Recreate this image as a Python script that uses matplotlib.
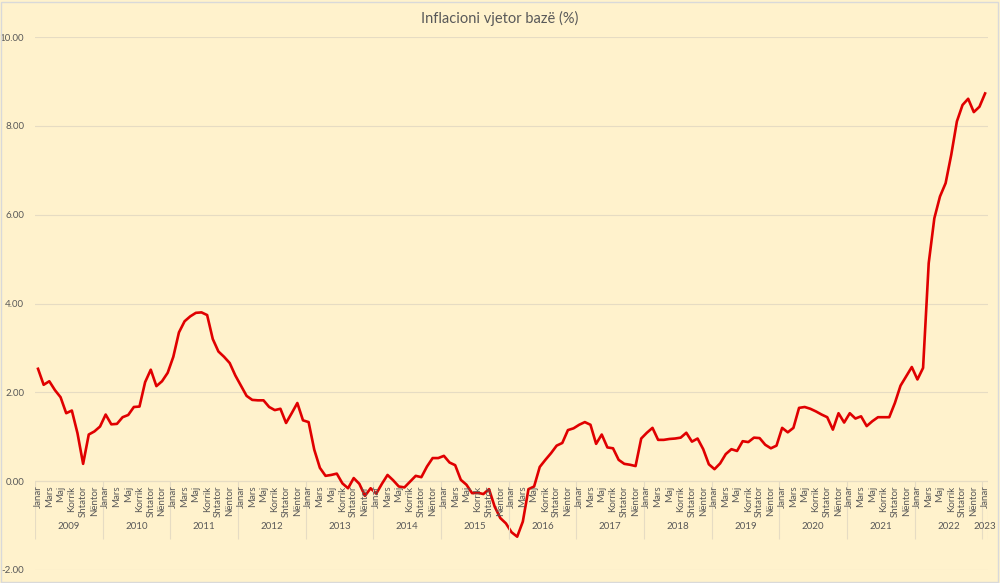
import matplotlib
matplotlib.use("Agg")
import matplotlib.pyplot as plt
from matplotlib.patches import Rectangle

# annual inflation (%), monthly, Jan 2009 .. Jan 2023
v2009 = [2.53, 2.17, 2.25, 2.05, 1.89, 1.53, 1.59, 1.08, 0.39, 1.05, 1.12, 1.23]
v2010 = [1.50, 1.28, 1.29, 1.44, 1.49, 1.67, 1.68, 2.23, 2.51, 2.14, 2.25, 2.44]
v2011 = [2.80, 3.35, 3.60, 3.71, 3.79, 3.80, 3.74, 3.20, 2.92, 2.80, 2.66, 2.38]
v2012 = [2.15, 1.92, 1.83, 1.82, 1.82, 1.67, 1.60, 1.63, 1.31, 1.53, 1.76, 1.37]
v2013 = [1.33, 0.71, 0.30, 0.12, 0.14, 0.17, -0.05, -0.16, 0.07, -0.06, -0.33, -0.16]
v2014 = [-0.28, -0.06, 0.14, 0.02, -0.12, -0.14, -0.01, 0.12, 0.09, 0.33, 0.52, 0.52]
v2015 = [0.57, 0.42, 0.36, 0.03, -0.08, -0.27, -0.26, -0.29, -0.18, -0.57, -0.83, -0.95]
v2016 = [-1.15, -1.25, -0.91, -0.18, -0.12, 0.32, 0.48, 0.63, 0.80, 0.86, 1.15, 1.19]
v2017 = [1.27, 1.33, 1.27, 0.84, 1.05, 0.76, 0.74, 0.48, 0.39, 0.37, 0.34, 0.96]
v2018 = [1.09, 1.20, 0.93, 0.93, 0.95, 0.96, 0.98, 1.09, 0.89, 0.96, 0.72, 0.38]
v2019 = [0.27, 0.40, 0.61, 0.72, 0.68, 0.90, 0.88, 0.98, 0.97, 0.82, 0.74, 0.80]
v2020 = [1.20, 1.10, 1.20, 1.65, 1.67, 1.63, 1.57, 1.50, 1.44, 1.16, 1.53, 1.32]
v2021 = [1.53, 1.41, 1.46, 1.24, 1.35, 1.44, 1.44, 1.44, 1.76, 2.15, 2.36, 2.57]
v2022 = [2.29, 2.55, 4.91, 5.92, 6.41, 6.71, 7.35, 8.10, 8.47, 8.61, 8.31, 8.43]
v2023 = [8.73]

years = [2009, 2010, 2011, 2012, 2013, 2014, 2015, 2016, 2017, 2018, 2019, 2020, 2021, 2022, 2023]
month_labels = ["Janar", "", "Mars", "", "Maj", "", "Korrik", "", "Shtator", "", "Nëntor", ""]
title = "Inflacioni vjetor bazë (%)"

values = (v2009 + v2010 + v2011 + v2012 + v2013 + v2014 + v2015 + v2016
          + v2017 + v2018 + v2019 + v2020 + v2021 + v2022 + v2023)
n = len(values)

bg = "#FFF2CC"
grid_col = "#E6DCC3"
txt_col = "#595959"
plt.rcParams["font.family"] = ["Lato", "DejaVu Sans"]

fig = plt.figure(figsize=(10, 5.83), dpi=100, facecolor=bg)
ax = fig.add_axes([0.0352, 0.0223, 0.9527, 0.9142], facecolor=bg)

ax.plot(range(n), values, color="#E00000", lw=1.9, solid_joinstyle="round")

ax.set_xlim(-0.5, n - 0.5)
ax.set_ylim(-2, 10)
ax.set_yticks(range(-2, 11, 2))
ax.set_yticklabels([f"{v:.2f}" for v in range(-2, 11, 2)])
ax.tick_params(axis="y", length=0, pad=8, labelsize=7, labelcolor=txt_col)
ax.set_xticks([])
ax.grid(axis="y", color=grid_col, lw=0.8)
ax.set_axisbelow(True)
for s in ax.spines.values():
    s.set_visible(False)
ax.axhline(0, color=grid_col, lw=0.8, zorder=0.5)

# month labels (every other month) under the zero line
for i in range(n):
    lab = month_labels[i % 12]
    if lab:
        ax.text(i, -0.1, lab, rotation=90, ha="center", va="top",
                fontsize=7, color=txt_col)

# year labels and separators
seps = []
for k, y in enumerate(years):
    start = k * 12
    end = min(start + 12, n)
    ax.text((start + end - 1) / 2, -1.03, str(y), ha="center", va="center",
            fontsize=7, color=txt_col)
    seps.append(start - 0.5)
seps.append(n - 0.5)
ax.vlines(seps, -1.3, 0, color=grid_col, lw=0.8)

fig.text(0.5, 0.968, title, ha="center", va="center", fontsize=10.5, color=txt_col)
fig.patches.append(Rectangle((0.001, 0.002), 0.997, 0.995, transform=fig.transFigure,
                             fill=False, edgecolor="#D9D9D9", lw=1))

fig.savefig("out.png", dpi=100, facecolor=bg)
